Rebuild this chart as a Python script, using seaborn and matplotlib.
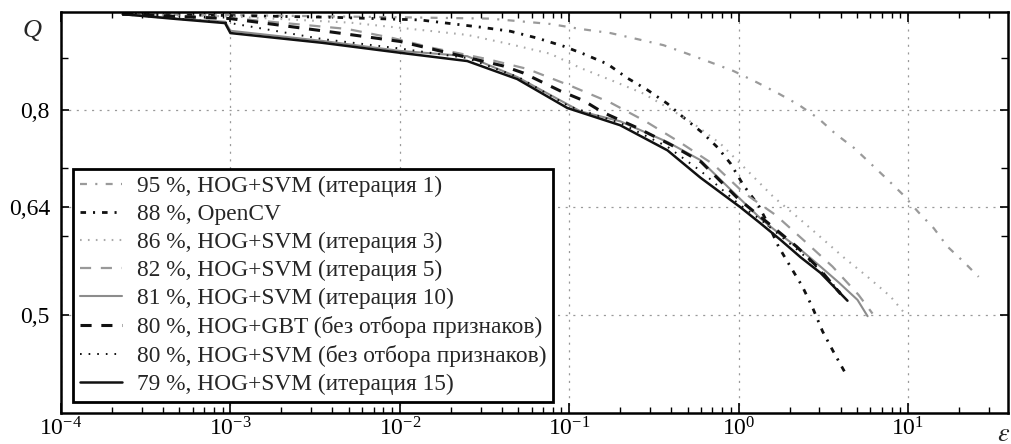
import numpy as np
import pandas as pd
import matplotlib
matplotlib.use("Agg")
import matplotlib.pyplot as plt
import matplotlib.ticker as mticker
import seaborn as sns

sns.set_style("ticks")
plt.rcParams['font.family'] = ['Liberation Serif', 'DejaVu Serif']
plt.rcParams['mathtext.fontset'] = 'stix'
plt.rcParams['lines.scale_dashes'] = False

# ---------------- data ----------------
labels = [
    "95 %, HOG+SVM (итерация 1)",
    "88 %, OpenCV",
    "86 %, HOG+SVM (итерация 3)",
    "82 %, HOG+SVM (итерация 5)",
    "81 %, HOG+SVM (итерация 10)",
    "80 %, HOG+GBT (без отбора признаков)",
    "80 %, HOG+SVM (без отбора признаков)",
    "79 %, HOG+SVM (итерация 15)",
]

x_it1 = [2.3e-4, 1e-3, 1e-2, 0.034, 0.0773, 0.1164, 0.175, 0.252, 0.360, 0.499, 0.700, 0.931,
         1.29, 1.72, 2.26, 2.96, 3.73, 4.8, 6.0, 7.56, 9.4, 11.5, 14.2, 17.1, 21.3, 26.1]
q_it1 = [0.995, 0.993, 0.988, 0.985, 0.973, 0.962, 0.953, 0.940, 0.927, 0.909, 0.890, 0.874,
         0.851, 0.830, 0.809, 0.784, 0.757, 0.733, 0.7075, 0.682, 0.658, 0.633, 0.610, 0.585, 0.565, 0.546]

x_ocv = [2.3e-4, 1e-3, 4e-3, 0.0132, 0.0299, 0.0449, 0.0649, 0.0922, 0.121, 0.168, 0.220, 0.289,
         0.380, 0.472, 0.611, 0.750, 0.895, 1.068, 1.31, 1.5, 1.72, 2.02, 2.38, 2.73, 3.13, 3.63, 4.27]
q_ocv = [0.995, 0.992, 0.988, 0.982, 0.966, 0.957, 0.942, 0.925, 0.909, 0.888, 0.860, 0.837,
         0.811, 0.786, 0.759, 0.734, 0.7075, 0.673, 0.643, 0.615, 0.585, 0.559, 0.534, 0.509, 0.482, 0.460, 0.438]

x_it3 = [2.3e-4, 1e-3, 0.00509, 0.01573, 0.025, 0.0449, 0.0773, 0.1164, 0.182, 0.274, 0.380,
         0.541, 0.782, 1.175, 1.61, 2.22, 3.04, 4.16, 5.77, 7.88, 9.67]
q_it3 = [0.995, 0.990, 0.976, 0.957, 0.949, 0.929, 0.909, 0.880, 0.854, 0.830, 0.804,
         0.775, 0.740, 0.691, 0.655, 0.626, 0.598, 0.571, 0.546, 0.522, 0.501]

x_it5 = [2.3e-4, 1.1e-3, 0.00489, 0.00914, 0.01573, 0.0328, 0.0566, 0.1014, 0.175, 0.282,
         0.453, 0.710, 1.068, 1.65, 2.41, 3.58, 5.10, 6.17]
q_it5 = [0.995, 0.985, 0.962, 0.942, 0.921, 0.898, 0.878, 0.845, 0.813, 0.779,
         0.742, 0.706, 0.662, 0.629, 0.594, 0.559, 0.524, 0.502]

x_it10 = [2.3e-4, 4.8e-4, 9.3e-4, 1.0e-3, 0.0035, 0.01, 0.025, 0.0493, 0.1164, 0.2, 0.38, 0.594,
          1.025, 1.345, 1.77, 2.32, 3.04, 3.9, 5.03, 5.77]
q_it10 = [0.995, 0.985, 0.978, 0.958, 0.936, 0.915, 0.904, 0.862, 0.797, 0.779, 0.743, 0.713,
          0.652, 0.624, 0.601, 0.581, 0.559, 0.539, 0.518, 0.499]

x_gbt = [2.3e-4, 1e-3, 0.004, 0.01, 0.0408, 0.0535, 0.0885, 0.121, 0.158, 0.25, 0.4, 0.6,
         1.0, 1.5, 2.2, 3.0, 4.0]
q_gbt = [0.995, 0.985, 0.955, 0.935, 0.884, 0.870, 0.835, 0.817, 0.795, 0.768, 0.738, 0.710,
         0.652, 0.617, 0.585, 0.556, 0.525]

x_nosel = [2.3e-4, 1e-3, 0.0035, 0.01, 0.025, 0.05, 0.1, 0.2, 0.38, 0.6, 1.0, 1.35, 1.8,
           2.3, 3.0, 4.2]
q_nosel = [0.995, 0.975, 0.940, 0.920, 0.900, 0.862, 0.806, 0.776, 0.735, 0.695, 0.645, 0.622,
           0.598, 0.578, 0.555, 0.522]

x_it15 = [2.32e-4, 4.84e-4, 9.3e-4, 1.0e-3, 0.00349, 0.01005, 0.025, 0.0493, 0.0975, 0.200,
          0.380, 0.594, 1.025, 1.345, 1.77, 2.32, 3.04, 4.39]
q_it15 = [0.995, 0.984, 0.975, 0.953, 0.932, 0.911, 0.894, 0.858, 0.803, 0.772,
          0.729, 0.685, 0.640, 0.617, 0.594, 0.571, 0.551, 0.517]

x_ticks = [1e-4, 1e-3, 1e-2, 1e-1, 1e0, 1e1]
y_ticks = [0.5, 0.64, 0.8]
y_tick_labels = ["0,5", "0,64", "0,8"]
y_minor = [0.6, 0.7, 0.9]

series_x = [x_it1, x_ocv, x_it3, x_it5, x_it10, x_gbt, x_nosel, x_it15]
series_q = [q_it1, q_ocv, q_it3, q_it5, q_it10, q_gbt, q_nosel, q_it15]

styles = [
    dict(color="#9a9a9a", lw=1.6, ls=(0, (5, 6, 1.5, 6))),
    dict(color="#111111", lw=2.0, ls=(0, (4, 5, 1.5, 5))),
    dict(color="#aaaaaa", lw=1.5, ls=(0, (1.2, 4.5))),
    dict(color="#999999", lw=1.6, ls=(0, (8, 7))),
    dict(color="#8c8c8c", lw=1.5, ls="-"),
    dict(color="#111111", lw=2.2, ls=(0, (8, 7))),
    dict(color="#111111", lw=1.4, ls=(0, (1.2, 5))),
    dict(color="#111111", lw=1.8, ls="-"),
]

# ---------------- figure ----------------
fig = plt.figure(figsize=(10.12, 4.44), dpi=100)
ax = fig.add_axes([61 / 1012, 31 / 444, 947 / 1012, 401 / 444])

for xs, qs, lab, st in zip(series_x, series_q, labels, styles):
    df = pd.DataFrame({"eps": xs, "Q": qs})
    sns.lineplot(data=df, x="eps", y="Q", ax=ax, sort=False, estimator=None,
                 color=st["color"], linewidth=st["lw"], linestyle=st["ls"], label=lab)

ax.set_xscale("log")
ax.set_yscale("log")
ax.set_xlim(1e-4, 10 ** 1.59)
ax.set_ylim(0.4, 1.0)

ax.xaxis.set_major_locator(mticker.FixedLocator(x_ticks))
ax.xaxis.set_major_formatter(mticker.LogFormatterSciNotation())
ax.xaxis.set_minor_locator(mticker.LogLocator(base=10, subs=np.arange(2, 10), numticks=20))
ax.xaxis.set_minor_formatter(mticker.NullFormatter())
ax.yaxis.set_major_locator(mticker.FixedLocator(y_ticks))
ax.yaxis.set_major_formatter(mticker.FixedFormatter(y_tick_labels))
ax.yaxis.set_minor_locator(mticker.FixedLocator(y_minor))
ax.yaxis.set_minor_formatter(mticker.NullFormatter())

ax.set_xlabel("")
ax.set_ylabel("")

ax.grid(True, which="major", color="#999999", linestyle=(0, (1.5, 4)), linewidth=0.9)
ax.grid(False, which="minor")

ax.tick_params(which="both", direction="in", top=True, right=True, colors="black")
ax.tick_params(axis="x", which="major", length=7, width=1.2, labelsize=17, pad=3)
ax.tick_params(axis="x", which="minor", length=4, width=1.0)
ax.tick_params(axis="y", which="major", length=6, width=1.2, labelsize=17, pad=8)
ax.tick_params(axis="y", which="minor", length=5, width=1.0)
for sp in ax.spines.values():
    sp.set_linewidth(1.8)
    sp.set_color("black")
    sp.set_visible(True)

leg = ax.legend(loc="lower left", bbox_to_anchor=(11.7 / 947, 11 / 401), borderaxespad=0,
                prop={"family": "Liberation Serif", "size": 16.8}, frameon=True, fancybox=False,
                framealpha=1, edgecolor="black", handlelength=1.8, handletextpad=0.65,
                labelspacing=0.29, borderpad=0.3)
leg.get_frame().set_linewidth(2.0)

fig.text(32 / 1012, 1 - 31 / 444, "Q", fontsize=19, fontstyle="italic",
         ha="center", va="center")
fig.text(1010 / 1012, 1 - 435 / 444, r"$\epsilon$", fontsize=19, ha="right", va="center")

fig.savefig("out.png", dpi=100)
